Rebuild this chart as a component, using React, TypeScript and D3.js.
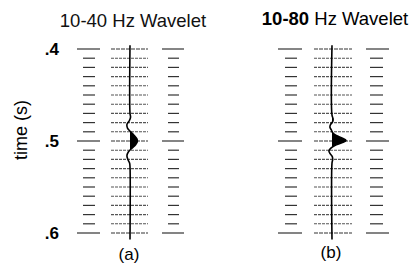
import React, { useRef, useEffect } from "react";
import * as d3 from "d3";

// time grid (s), one line every 10 ms
const gridTimes = [
  0.4, 0.41, 0.42, 0.43, 0.44, 0.45, 0.46, 0.47, 0.48, 0.49, 0.5,
  0.51, 0.52, 0.53, 0.54, 0.55, 0.56, 0.57, 0.58, 0.59, 0.6,
];
const majorTimes = [0.4, 0.5, 0.6];
const tickLabels = [".4", ".5", ".6"];

// 10-40 Hz trace
const traceATimes = [
  0.396, 0.47, 0.474, 0.478, 0.482, 0.486, 0.49, 0.494, 0.498, 0.501,
  0.504, 0.508, 0.512, 0.516, 0.52, 0.524, 0.528, 0.607,
];
const traceAAmps = [
  0, 0, 0.04, -0.05, -0.22, -0.18, 0.05, 0.3, 0.5, 0.52,
  0.4, 0.12, -0.12, -0.22, -0.15, -0.03, 0, 0,
];

// 10-80 Hz trace
const traceBTimes = [
  0.396, 0.472, 0.476, 0.479, 0.482, 0.485, 0.488, 0.491, 0.494, 0.497,
  0.4995, 0.502, 0.505, 0.508, 0.511, 0.514, 0.517, 0.52, 0.524, 0.607,
];
const traceBAmps = [
  0, 0, 0.08, 0.05, -0.1, -0.15, -0.05, 0.05, 0.3, 0.75,
  1.0, 0.7, 0.2, -0.1, -0.22, -0.12, 0.02, 0.05, 0, 0,
];

const titles = ["10-40 Hz Wavelet", "10-80 Hz Wavelet"];
const panelLabels = ["(a)", "(b)"];

interface PanelLayout {
  left: [number, number];
  leftShort: [number, number];
  mid: [number, number];
  trace: number;
  right: [number, number];
  rightShort: [number, number];
}

const layouts: PanelLayout[] = [
  { left: [77, 100], leftShort: [83, 95], mid: [111, 148], trace: 130, right: [162, 184], rightShort: [168, 179] },
  { left: [278, 302], leftShort: [285, 297], mid: [314, 352], trace: 332, right: [366, 389], rightShort: [370, 383] },
];

const App: React.FC = () => {
  const svgRef = useRef<SVGSVGElement | null>(null);

  useEffect(() => {
    const svg = d3.select(svgRef.current);
    svg.selectAll("*").remove();

    const y = d3.scaleLinear().domain([0.4, 0.6]).range([49, 233]);
    const amp = d3.scaleLinear().domain([-1, 1]).range([-14, 14]);
    const font = "'Liberation Sans', Arial, sans-serif";

    const traces = [
      traceATimes.map((t, i) => ({ t, a: traceAAmps[i] })),
      traceBTimes.map((t, i) => ({ t, a: traceBAmps[i] })),
    ];

    layouts.forEach((L, p) => {
      const g = svg.append("g");

      // side columns
      gridTimes.forEach((t) => {
        const major = majorTimes.includes(t);
        const [lx0, lx1] = major ? L.left : L.leftShort;
        const [rx0, rx1] = major ? L.right : L.rightShort;
        [[lx0, lx1], [rx0, rx1]].forEach(([a, b]) => {
          g.append("line")
            .attr("x1", a).attr("x2", b)
            .attr("y1", y(t)).attr("y2", y(t))
            .attr("stroke", "#333")
            .attr("stroke-width", 1.2);
        });
        // middle column, dotted
        g.append("line")
          .attr("x1", L.mid[0]).attr("x2", L.mid[1])
          .attr("y1", y(t)).attr("y2", y(t))
          .attr("stroke", major ? "#333" : "#555")
          .attr("stroke-width", 1.1)
          .attr("stroke-dasharray", major ? "4,1" : "3,1");
      });

      const data = traces[p];
      const clipId = `clip${p}`;
      svg.append("clipPath").attr("id", clipId)
        .append("rect")
        .attr("x", L.trace).attr("y", 0)
        .attr("width", 40).attr("height", 267);

      const area = d3.area<{ t: number; a: number }>()
        .y((d) => y(d.t))
        .x0(L.trace)
        .x1((d) => L.trace + amp(d.a))
        .curve(d3.curveCatmullRom);
      g.append("path")
        .datum(data)
        .attr("d", area)
        .attr("fill", "#000")
        .attr("clip-path", `url(#${clipId})`);

      const line = d3.line<{ t: number; a: number }>()
        .y((d) => y(d.t))
        .x((d) => L.trace + amp(d.a))
        .curve(d3.curveCatmullRom);
      g.append("path")
        .datum(data)
        .attr("d", line)
        .attr("fill", "none")
        .attr("stroke", "#000")
        .attr("stroke-width", 1.6);

      // panel label
      g.append("text")
        .attr("x", L.trace - 1)
        .attr("y", p === 0 ? 260 : 258)
        .attr("text-anchor", "middle")
        .attr("font-family", font)
        .attr("font-size", 17)
        .text(panelLabels[p]);
    });

    // titles
    svg.append("text")
      .attr("x", 133).attr("y", 27)
      .attr("text-anchor", "middle")
      .attr("font-family", font)
      .attr("font-size", 18.5)
      .attr("fill", "#111")
      .text(titles[0]);

    const [num, rest] = [titles[1].slice(0, 5), titles[1].slice(5)];
    const tB = svg.append("text")
      .attr("x", 335).attr("y", 25)
      .attr("text-anchor", "middle")
      .attr("font-family", font)
      .attr("font-size", 18.5);
    tB.append("tspan").attr("font-weight", "bold").text(num);
    tB.append("tspan").text(rest);

    // y tick labels
    majorTimes.forEach((t, i) => {
      svg.append("text")
        .attr("x", 59)
        .attr("y", y(t))
        .attr("dy", "0.36em")
        .attr("text-anchor", "end")
        .attr("font-family", font)
        .attr("font-size", 17)
        .attr("font-weight", "bold")
        .text(tickLabels[i]);
    });

    // y axis title
    svg.append("text")
      .attr("transform", `translate(27, 130) rotate(-90)`)
      .attr("text-anchor", "middle")
      .attr("font-family", font)
      .attr("font-size", 18)
      .text("time (s)");
  }, []);

  return (
    <svg
      ref={svgRef}
      width={410}
      height={267}
      style={{ position: "absolute", left: 0, top: 0, background: "#fff" }}
    />
  );
};

export default App;
